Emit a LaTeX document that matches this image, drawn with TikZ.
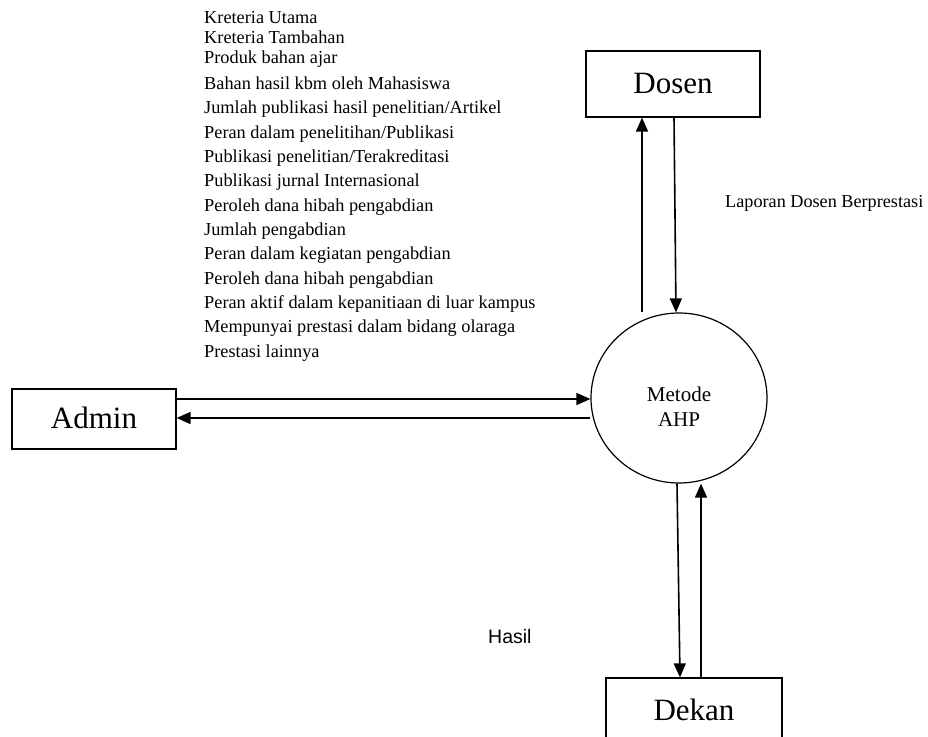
\documentclass[tikz,border=0pt]{standalone}
\usepackage{fontspec}
\setmainfont{Liberation Serif}
\newfontfamily\labelsans{Liberation Sans}
\usetikzlibrary{arrows.meta,shapes.geometric}
\begin{document}
\begin{tikzpicture}[x=1pt,y=-1pt,
  entity/.style={draw,line width=1.2pt,rectangle,inner sep=0pt,
    text height=22pt,text depth=4pt,font=\fontsize{31}{36}\selectfont},
  process/.style={draw,line width=1.2pt,ellipse,inner sep=0pt,
    minimum width=176pt,minimum height=170pt,align=center,
    text height=56pt,text depth=0pt,font=\fontsize{21}{25}\selectfont},
  flow/.style={line width=1.6pt,-{Triangle[length=14pt,width=12pt]}},
  crit/.style={anchor=base west,inner sep=0pt,font=\fontsize{18.3}{22}\selectfont},
  flowlabel/.style={anchor=base west,inner sep=0pt},
]
\useasboundingbox (0,0) rectangle (928,736);

% external entities and the process
\node[entity,minimum width=174pt,minimum height=66pt] (dosen) at (673,84) {Dosen};
\node[entity,minimum width=164pt,minimum height=60pt] (admin) at (94,419) {Admin};
\node[entity,minimum width=176pt,minimum height=66pt] (dekan) at (694,711) {Dekan};
\node[process] (ahp) at (679,398) {Metode\\AHP};

% data sent by the admin
\node[crit] (c1)  at (204,23)  {Kreteria Utama};
\node[crit] (c2)  at (204,43)  {Kreteria Tambahan};
\node[crit] (c3)  at (204,63)  {Produk bahan ajar};
\node[crit] (c4)  at (204,89)  {Bahan hasil kbm oleh Mahasiswa};
\node[crit] (c5)  at (204,113) {Jumlah publikasi hasil penelitian/Artikel};
\node[crit] (c6)  at (204,138) {Peran dalam penelitihan/Publikasi};
\node[crit] (c7)  at (204,162) {Publikasi penelitian/Terakreditasi};
\node[crit] (c8)  at (204,186) {Publikasi jurnal Internasional};
\node[crit] (c9)  at (204,211) {Peroleh dana hibah pengabdian};
\node[crit] (c10) at (204,235) {Jumlah pengabdian};
\node[crit] (c11) at (204,259) {Peran dalam kegiatan pengabdian};
\node[crit] (c12) at (204,284) {Peroleh dana hibah pengabdian};
\node[crit] (c13) at (204,308) {Peran aktif dalam kepanitiaan di luar kampus};
\node[crit] (c14) at (204,332) {Mempunyai prestasi dalam bidang olaraga};
\node[crit] (c15) at (204,357) {Prestasi lainnya};

% flow labels
\node[flowlabel,font=\fontsize{18.2}{22}\selectfont] (lap) at (725,207) {Laporan Dosen Berprestasi};
\node[flowlabel,font=\labelsans\fontsize{19.5}{23}\selectfont] (hasil) at (488,643) {Hasil};

% data flows
\draw[flow] ([yshift=20pt]admin.east) -- ([yshift=-1pt]ahp.west);
\draw[flow] ([yshift=-20pt]ahp.west) -- ([yshift=1pt]admin.east);
\draw[flow] ([xshift=-37pt]ahp.north) -- ([xshift=-31pt]dosen.south);
\draw[flow] ([xshift=1pt]dosen.south) -- ([xshift=-3pt]ahp.north);
\draw[flow] ([xshift=-2pt]ahp.south) -- ([xshift=-14pt]dekan.north);
\draw[flow] ([xshift=7pt]dekan.north) -- ([xshift=22pt]ahp.south);
\end{tikzpicture}
\end{document}
